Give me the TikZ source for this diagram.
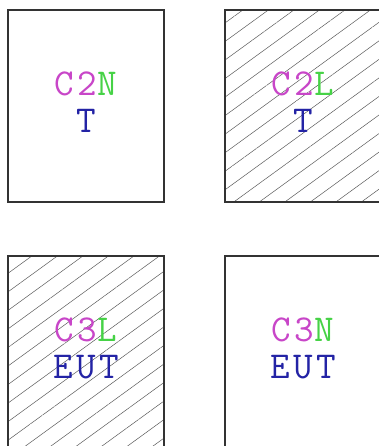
\documentclass[tikz,border=0pt]{standalone}
\usepackage{fontspec}
\newfontfamily\tagfont{Latin Modern Mono}[LetterSpace=9]
\usetikzlibrary{patterns.meta}
\definecolor{magC}{RGB}{200,70,200}
\definecolor{grnC}{RGB}{70,210,70}
\definecolor{bluC}{RGB}{35,35,165}
\begin{document}
\begin{tikzpicture}
  [x=1pt,y=-1pt,
   cell/.style={rectangle,draw=black!80,line width=1.2pt,minimum width=156pt,minimum height=192pt,inner sep=0pt},
   hatched/.style={pattern={Lines[angle=36,distance=15pt,line width=0.5pt]},pattern color=black!65},
   tag/.style={font=\tagfont\fontsize{38}{37}\selectfont,align=center,inner sep=0pt}]

  \useasboundingbox (0,0) rectangle (378,446);

  % Fila superior
  \node[cell] (c2n) at (86,106) {};
  \node[cell,hatched] (c2l) at (303,106) {};

  % Fila inferior
  \node[cell,hatched] (c3l) at (86,352) {};
  \node[cell] (c3n) at (303,352) {};

  % Etiquetas de cada celda
  \node[tag] (t1) at ([yshift=4pt]c2n.center) {\textcolor{magC}{C2}\textcolor{grnC}{N}\\\textcolor{bluC}{T}};
  \node[tag] (t2) at ([yshift=4pt]c2l.center) {\textcolor{magC}{C2}\textcolor{grnC}{L}\\\textcolor{bluC}{T}};
  \node[tag] (t3) at ([yshift=4pt]c3l.center) {\textcolor{magC}{C3}\textcolor{grnC}{L}\\\textcolor{bluC}{EUT}};
  \node[tag] (t4) at ([yshift=4pt]c3n.center) {\textcolor{magC}{C3}\textcolor{grnC}{N}\\\textcolor{bluC}{EUT}};

\end{tikzpicture}
\end{document}
